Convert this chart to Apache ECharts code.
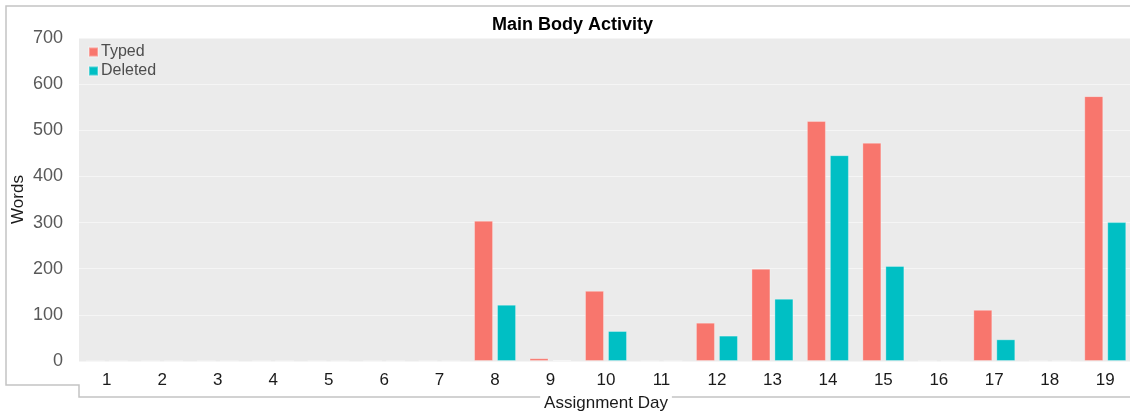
<!DOCTYPE html>
<html>
<head>
<meta charset="utf-8">
<script src="https://cdn.jsdelivr.net/npm/echarts@6/dist/echarts.min.js"></script>
<style>
  html, body { margin: 0; padding: 0; background: #fff; }
  #chart { width: 1130px; height: 415px; }
</style>
</head>
<body>
<div id="chart"></div>
<script>
// Words typed and deleted in the main body, per assignment day
const days = ['1','2','3','4','5','6','7','8','9','10','11','12','13','14','15','16','17','18','19'];
const typed = [0, 0, 0, 0, 0, 0, 0, 304, 6, 152, 0, 83, 200, 520, 473, 0, 111, 0, 574];
const deleted = [0, 0, 0, 0, 0, 0, 0, 122, 2, 65, 0, 55, 135, 446, 206, 0, 47, 0, 301];
const yTicks = [0, 100, 200, 300, 400, 500, 600, 700];

const FONT = '"Liberation Sans", Arial, sans-serif';
const chart = echarts.init(document.getElementById('chart'), null, { renderer: 'canvas' });

chart.setOption({
  animation: false,
  backgroundColor: '#ffffff',
  textStyle: { fontFamily: FONT },
  title: {
    text: 'Main Body Activity',
    left: 492,
    top: 16,
    padding: 0,
    textStyle: { fontFamily: FONT, fontSize: 18, fontWeight: 'bold', color: '#000000' }
  },
  legend: {
    orient: 'vertical',
    left: 88,
    top: 44,
    padding: 0,
    itemGap: 3,
    itemWidth: 9,
    itemHeight: 9,
    icon: 'rect',
    textStyle: { fontFamily: FONT, fontSize: 16, color: '#4d4d4d', lineHeight: 16, padding: [0, 0, 0, -2] },
    data: ['Typed', 'Deleted']
  },
  grid: {
    left: 79,
    top: 38,
    width: 1054,
    bottom: 54,
    show: true,
    backgroundColor: '#EBEBEB',
    borderWidth: 0,
    containLabel: false,
    outerBoundsMode: 'none'
  },
  xAxis: {
    type: 'category',
    data: days,
    boundaryGap: true,
    name: 'Assignment Day',
    nameLocation: 'middle',
    nameGap: 34,
    nameMoveOverlap: false,
    nameTextStyle: {
      fontFamily: FONT, fontSize: 17, color: '#1a1a1a',
      backgroundColor: '#ffffff', padding: [0, 4, 0, 4]
    },
    axisLine: { show: false },
    axisTick: { show: false },
    axisLabel: { fontFamily: FONT, fontSize: 17, color: '#1a1a1a', margin: 11, interval: 0 },
    splitLine: { show: false }
  },
  yAxis: {
    type: 'value',
    min: yTicks[0],
    max: yTicks[yTicks.length - 1],
    interval: 100,
    name: 'Words',
    nameLocation: 'middle',
    nameGap: 52,
    nameMoveOverlap: false,
    nameTextStyle: { fontFamily: FONT, fontSize: 17, color: '#1a1a1a' },
    axisLine: { show: false },
    axisTick: { show: false },
    axisLabel: { fontFamily: FONT, fontSize: 18, color: '#595959', margin: 16 },
    splitLine: { show: true, lineStyle: { color: '#F5F5F5', width: 1.2 } }
  },
  series: [
    {
      name: 'Typed',
      type: 'bar',
      data: typed,
      barWidth: 19,
      barGap: '21%',
      itemStyle: { color: '#F8766D', borderColor: 'rgba(255,255,255,0.3)', borderWidth: 1 }
    },
    {
      name: 'Deleted',
      type: 'bar',
      data: deleted,
      barWidth: 19,
      barGap: '21%',
      itemStyle: { color: '#00BFC4', borderColor: 'rgba(255,255,255,0.3)', borderWidth: 1 }
    }
  ],
  graphic: [
    {
      type: 'polyline',
      silent: true,
      z: -1,
      shape: { points: [[1130, 6], [6, 6], [6, 385], [79, 385], [79, 397], [1130, 397]] },
      style: { stroke: '#c4c4c4', lineWidth: 1.5, fill: null }
    }
  ]
});
</script>
</body>
</html>
